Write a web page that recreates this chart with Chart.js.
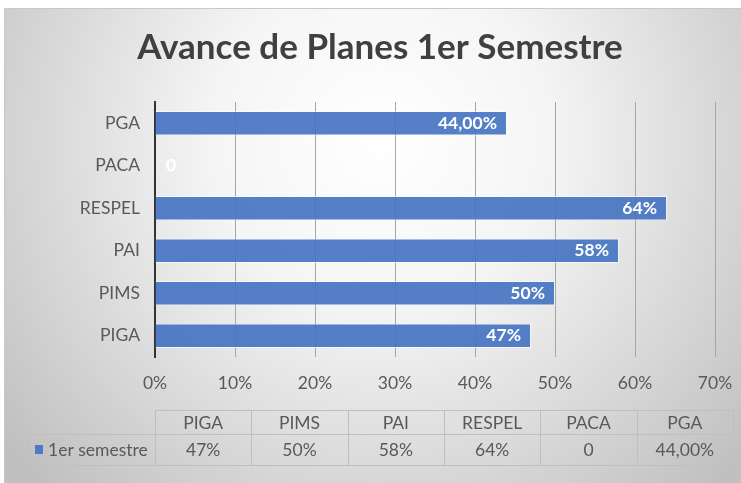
<!DOCTYPE html>
<html>
<head>
<meta charset="utf-8">
<script src="https://cdn.jsdelivr.net/npm/chart.js@4.4.1/dist/chart.umd.min.js"></script>
<style>
html, body { margin: 0; padding: 0; background: #fff; }
</style>
</head>
<body>
<canvas id="chart" width="741" height="483"></canvas>
<script>
// data, in the order of the table under the chart
var titleText = 'Avance de Planes 1er Semestre';
var seriesName = '1er semestre';
var categories = ['PIGA', 'PIMS', 'PAI', 'RESPEL', 'PACA', 'PGA'];
var values = [47, 50, 58, 64, 0, 44];
var valueLabels = ['47%', '50%', '58%', '64%', '0', '44,00%'];
var xTicks = [0, 10, 20, 30, 40, 50, 60, 70];

var fontFam = 'Lato, "Open Sans", sans-serif';
var textColor = '#595959';
var barColor = 'rgba(66,114,194,0.9)';

var decor = {
    id: 'decor',
    beforeDraw: function(chart) {
        var ctx = chart.ctx;
        ctx.save();
        var g = ctx.createRadialGradient(380, 140, 0, 380, 140, 480);
        g.addColorStop(0, '#ffffff');
        g.addColorStop(0.35, '#f5f5f5');
        g.addColorStop(1, '#c0c0c0');
        ctx.fillStyle = g;
        ctx.fillRect(5, 9, 736, 474);
        ctx.strokeStyle = '#c8c8c8';
        ctx.lineWidth = 1;
        ctx.strokeRect(4.5, 8.5, 740, 480);
        // title
        ctx.fillStyle = '#404040';
        ctx.font = 'bold 35px ' + fontFam;
        ctx.textAlign = 'center';
        ctx.textBaseline = 'middle';
        ctx.fillText(titleText, 380, 48);
        ctx.restore();
    },
    afterDatasetsDraw: function(chart) {
        var ctx = chart.ctx;
        var meta = chart.getDatasetMeta(0);
        var x0 = chart.scales.x.getPixelForValue(0);
        ctx.save();
        ctx.fillStyle = '#ffffff';
        ctx.font = 'bold 17.5px ' + fontFam;
        ctx.textBaseline = 'middle';
        meta.data.forEach(function(bar, i) {
            if (values[i] > 0) {
                ctx.textAlign = 'right';
                ctx.fillText(valueLabels[i], bar.x - 10, bar.y);
            } else {
                ctx.textAlign = 'left';
                ctx.fillText(valueLabels[i], x0 + 11, bar.y);
            }
        });
        ctx.restore();
    },
    afterDraw: function(chart) {
        // data table under the axis
        var ctx = chart.ctx;
        var left = chart.chartArea.left, right = 733;
        var n = categories.length;
        var w = (right - left) / n;
        var top = 410, mid = 434, bottom = 465, legLeft = 28;
        ctx.save();
        ctx.strokeStyle = '#bfbfbf';
        ctx.lineWidth = 1;
        ctx.beginPath();
        ctx.moveTo(left, top + 0.5); ctx.lineTo(right, top + 0.5);
        ctx.moveTo(legLeft, mid + 0.5); ctx.lineTo(right, mid + 0.5);
        ctx.moveTo(legLeft, bottom + 0.5); ctx.lineTo(right, bottom + 0.5);
        ctx.moveTo(legLeft + 0.5, mid); ctx.lineTo(legLeft + 0.5, bottom);
        for (var i = 0; i <= n; i++) {
            var xx = Math.round(left + i * w) + 0.5;
            ctx.moveTo(xx, top); ctx.lineTo(xx, bottom);
        }
        ctx.stroke();

        ctx.fillStyle = textColor;
        ctx.font = '17.5px ' + fontFam;
        ctx.textAlign = 'center';
        ctx.textBaseline = 'middle';
        for (var j = 0; j < n; j++) {
            var cx = left + (j + 0.5) * w;
            ctx.fillText(categories[j], cx, (top + mid) / 2 + 1);
            ctx.fillText(valueLabels[j], cx, (mid + bottom) / 2 + 1);
        }
        // legend key
        ctx.fillStyle = barColor;
        ctx.fillRect(35, 445, 8, 9);
        ctx.fillStyle = textColor;
        ctx.textAlign = 'left';
        ctx.fillText(seriesName, 48, (mid + bottom) / 2 + 1);
        ctx.restore();
    }
};

new Chart(document.getElementById('chart'), {
    type: 'bar',
    data: {
        labels: categories,
        datasets: [{
            label: seriesName,
            data: values,
            backgroundColor: barColor,
            borderColor: 'rgba(255,255,255,0.6)',
            borderWidth: 1,
            barPercentage: 0.58,
            categoryPercentage: 1
        }]
    },
    options: {
        indexAxis: 'y',
        responsive: false,
        animation: false,
        layout: { padding: { top: 102, left: 25, right: 26, bottom: 0 } },
        plugins: {
            legend: { display: false },
            title: { display: false },
            tooltip: { enabled: false }
        },
        scales: {
            x: {
                min: xTicks[0],
                max: xTicks[xTicks.length - 1],
                ticks: {
                    stepSize: xTicks[1] - xTicks[0],
                    callback: function(v) { return v + '%'; },
                    color: textColor,
                    font: { family: fontFam, size: 17.5 },
                    padding: 16
                },
                grid: { color: '#a6a6a6', drawTicks: false },
                border: { display: false },
                afterFit: function(s) {
                    s.height = 126;
                    s.paddingLeft = 0;
                    s.paddingRight = 0;
                }
            },
            y: {
                reverse: true,
                ticks: {
                    color: textColor,
                    font: { family: fontFam, size: 17.5 },
                    padding: 15
                },
                grid: { display: false, drawTicks: false },
                border: { color: '#333333', width: 2 },
                afterFit: function(s) { s.width = 130; }
            }
        }
    },
    plugins: [decor]
});
</script>
</body>
</html>
